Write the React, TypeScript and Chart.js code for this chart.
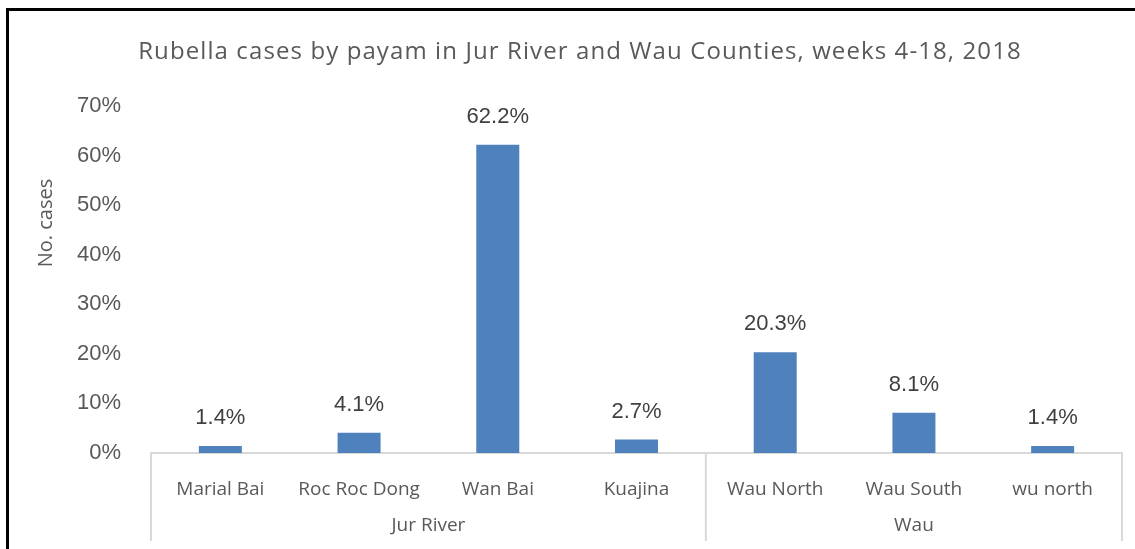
import { useEffect, useRef } from "react";
import { Chart, registerables } from "chart.js";

Chart.register(...registerables);

const TITLE = "Rubella cases by payam in Jur River and Wau Counties, weeks 4-18, 2018";
const Y_TITLE = "No. cases";
const CATEGORIES = ["Marial Bai", "Roc Roc Dong", "Wan Bai", "Kuajina", "Wau North", "Wau South", "wu north"];
const VALUES = [1.4, 4.1, 62.2, 2.7, 20.3, 8.1, 1.4];
const GROUPS = ["Jur River", "Wau"];
const GROUP_SIZES = [4, 3];
const Y_MAX = 70;
const Y_STEP = 10;

const BAR_COLOR = "#4f81bd";
const TEXT_GRAY = "#595959";
const LABEL_GRAY = "#404040";
const LINE_GRAY = "#d9d9d9";

const overlay = {
  id: "overlay",
  afterDraw(chart: any) {
    const ctx = chart.ctx as CanvasRenderingContext2D;
    const xs = chart.scales.x;
    const area = chart.chartArea;
    ctx.save();

    // outer frame
    ctx.fillStyle = "#000";
    ctx.fillRect(6, 8, 3, chart.height);
    ctx.fillRect(6, 8, chart.width, 3);

    // title
    ctx.fillStyle = TEXT_GRAY;
    ctx.font = '24px "Open Sans"';
    ctx.textAlign = "center";
    ctx.textBaseline = "alphabetic";
    (ctx as any).letterSpacing = "1.1px";
    ctx.fillText(TITLE, 580, 59);
    (ctx as any).letterSpacing = "0px";

    // y title
    ctx.save();
    ctx.translate(52, 223);
    ctx.rotate(-Math.PI / 2);
    ctx.font = '20px "Open Sans"';
    ctx.fillText(Y_TITLE, 0, 0);
    ctx.restore();

    // data labels
    const meta = chart.getDatasetMeta(0);
    ctx.fillStyle = LABEL_GRAY;
    ctx.font = '22px "Liberation Sans"';
    meta.data.forEach((bar: any, i: number) => {
      ctx.fillText(VALUES[i].toFixed(1) + "%", bar.x, bar.y - 22);
    });

    // group separators and labels
    const half = (xs.getPixelForValue(1) - xs.getPixelForValue(0)) / 2;
    const bottom = area.bottom;
    ctx.strokeStyle = LINE_GRAY;
    ctx.lineWidth = 2;
    let start = 0;
    const edges: number[] = [xs.getPixelForValue(0) - half];
    GROUP_SIZES.forEach((n) => {
      const end = start + n - 1;
      edges.push(xs.getPixelForValue(end) + half);
      start += n;
    });
    edges.forEach((ex) => {
      ctx.beginPath();
      ctx.moveTo(ex, bottom);
      ctx.lineTo(ex, bottom + 88);
      ctx.stroke();
    });
    ctx.fillStyle = TEXT_GRAY;
    ctx.font = '19px "Open Sans"';
    GROUPS.forEach((g, i) => {
      ctx.fillText(g, (edges[i] + edges[i + 1]) / 2, 531);
    });
    ctx.restore();
  },
};

export default function App() {
  const ref = useRef<HTMLCanvasElement>(null);
  useEffect(() => {
    if (!ref.current) return;
    const chart = new Chart(ref.current, {
      type: "bar",
      data: {
        labels: CATEGORIES,
        datasets: [
          {
            data: VALUES,
            backgroundColor: BAR_COLOR,
            barPercentage: 0.31,
            categoryPercentage: 1,
          },
        ],
      },
      options: {
        responsive: false,
        animation: false,
        layout: { padding: { left: 0, right: 13, top: 106, bottom: 0 } },
        plugins: {
          legend: { display: false },
          title: { display: false },
          tooltip: { enabled: false },
        },
        scales: {
          x: {
            grid: { display: false },
            border: { display: true, color: LINE_GRAY, width: 2 },
            ticks: {
              color: TEXT_GRAY,
              font: { family: "Open Sans", size: 19 },
              padding: 17,
              maxRotation: 0,
              autoSkip: false,
            },
            afterFit: (s: any) => {
              s.height = 96;
            },
          },
          y: {
            min: 0,
            max: Y_MAX,
            grid: { display: false },
            border: { display: false },
            ticks: {
              stepSize: Y_STEP,
              color: TEXT_GRAY,
              font: { family: "Liberation Sans", size: 22 },
              padding: 22,
              callback: (v: any) => v + "%",
            },
            afterFit: (s: any) => {
              s.width = 151;
            },
          },
        },
      },
      plugins: [overlay],
    });
    return () => chart.destroy();
  }, []);
  return (
    <div style={{ position: "absolute", left: 0, top: 0, width: 1135, height: 549, background: "#fff" }}>
      <canvas ref={ref} width={1135} height={549} style={{ width: 1135, height: 549, display: "block" }} />
    </div>
  );
}
